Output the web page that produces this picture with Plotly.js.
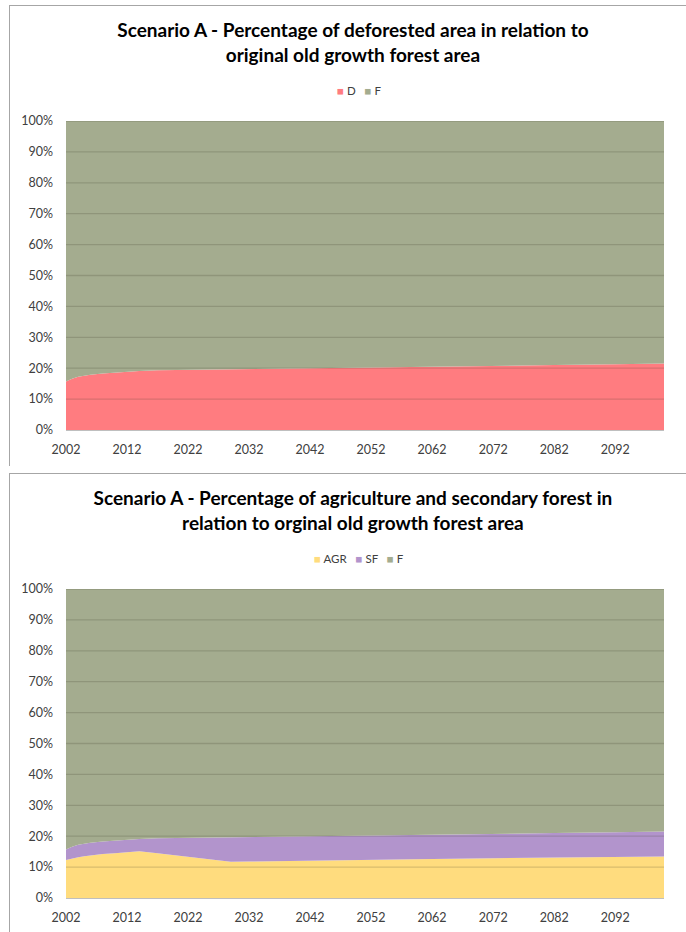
<!DOCTYPE html>
<html>
<head>
<meta charset="utf-8">
<script src="https://cdn.plot.ly/plotly-3.0.1.min.js"></script>
<style>
  html, body { margin: 0; padding: 0; width: 686px; height: 932px; overflow: hidden; background: #fff; }
  .box { position: absolute; left: 9px; width: 690px; border: 1.5px solid #A6A6A6; box-sizing: border-box; background: #fff; }
  #box1 { top: 5px; height: 461px; }
  #box2 { top: 473px; height: 466px; }
</style>
</head>
<body>
<div class="box" id="box1"><div id="chart1"></div></div>
<div class="box" id="box2"><div id="chart2"></div></div>
<script>
// Years at which the shares were sampled (percent of original old growth forest area)
const years = [2002, 2003, 2004, 2005, 2006, 2008, 2010, 2012, 2014, 2017, 2020, 2022,
               2025, 2029, 2032, 2042, 2052, 2062, 2072, 2082, 2092, 2100];

// Deforested area (D)
const deforested = [15.7, 16.6, 17.2, 17.6, 17.9, 18.3, 18.6, 18.9, 19.1, 19.3, 19.4, 19.5,
                    19.6, 19.7, 19.8, 20.0, 20.2, 20.4, 20.7, 21.0, 21.3, 21.5];

// Agriculture (AGR) and secondary forest (SF)
const agriculture = [12.3, 12.8, 13.2, 13.5, 13.8, 14.2, 14.5, 14.8, 15.1, 14.5, 13.8, 13.4,
                     12.6, 11.7, 11.8, 12.0, 12.3, 12.6, 12.9, 13.1, 13.3, 13.4];
const secondary = [3.4, 3.8, 4.0, 4.1, 4.1, 4.1, 4.1, 4.1, 4.0, 4.8, 5.6, 6.1,
                   7.0, 8.0, 8.0, 8.0, 7.9, 7.8, 7.8, 7.9, 8.0, 8.1];

const xTicks = [2002, 2012, 2022, 2032, 2042, 2052, 2062, 2072, 2082, 2092];
const yTicks = [0, 10, 20, 30, 40, 50, 60, 70, 80, 90, 100];

const title1 = 'Scenario A - Percentage of deforested area in relation to<br>original old growth forest area';
const title2 = 'Scenario A - Percentage of agriculture and secondary forest in<br>relation to orginal old growth forest area';

const COLORS = { D: '#FF7C80', F: '#A4AC8F', AGR: '#FFDC7E', SF: '#B294CC' };
const FONT = 'Lato, "Open Sans", sans-serif';

// Remaining old growth forest fills the rest up to 100%
const forest1 = deforested.map(v => 100 - v);
const forest2 = agriculture.map((v, i) => 100 - v - secondary[i]);

function area(name, y, color) {
  return {
    type: 'scatter', mode: 'lines', x: years, y: y, name: name,
    stackgroup: 'one', fillcolor: color,
    line: { width: 0, color: color, shape: 'linear' },
    hoverinfo: 'skip', showlegend: false
  };
}

// Compact key above the plot: a coloured square followed by the series name
function keyText(names, colors) {
  return names.map((n, i) =>
    '<span style="color:' + colors[i] + '">■</span>\u00a0' + n).join('\u00a0\u00a0\u00a0');
}

function layoutFor(title, h, names, colors) {
  // Gridlines drawn over the filled areas
  const grid = yTicks.filter(v => v > 0).map(v => ({
    type: 'line', xref: 'paper', yref: 'y', x0: 0, x1: 1, y0: v, y1: v,
    layer: 'above', line: { color: 'rgba(60,60,40,0.2)', width: 1.3 }
  }));
  return {
    width: 690, height: h,
    margin: { l: 56, r: 36, t: 115, b: h - 424 },
    paper_bgcolor: '#fff', plot_bgcolor: '#fff',
    font: { family: FONT, color: '#595959', size: 12 },
    title: {
      text: title, xref: 'container', x: 0.497, xanchor: 'center',
      yref: 'container', y: 1 - 31 / h, yanchor: 'middle',
      font: { family: FONT, size: 19, color: '#000', weight: 700 }
    },
    showlegend: false,
    annotations: [{
      xref: 'paper', yref: 'paper', x: 0.49, y: 1 + 30 / 308, xanchor: 'center', yanchor: 'middle',
      showarrow: false, text: keyText(names, colors),
      font: { family: FONT, size: 11.5, color: '#404040' }
    }],
    xaxis: {
      type: 'linear', range: [2002, 2100], tickvals: xTicks, ticktext: xTicks.map(String),
      showgrid: false, zeroline: false, showline: true, linecolor: '#BFBFBF', linewidth: 1,
      ticks: '', ticklabelstandoff: 8, tickfont: { size: 12.5, color: '#404040' }, fixedrange: true
    },
    yaxis: {
      range: [0, 100], tickvals: yTicks, ticktext: yTicks.map(v => v + '%'),
      showgrid: false, zeroline: false, showline: false,
      ticks: '', ticklabelstandoff: 12, tickfont: { size: 12.5, color: '#404040' }, fixedrange: true
    },
    shapes: grid,
    hovermode: false
  };
}

const cfg = { displayModeBar: false, staticPlot: true };

Plotly.newPlot('chart1',
  [area('D', deforested, COLORS.D), area('F', forest1, COLORS.F)],
  layoutFor(title1, 461, ['D', 'F'], [COLORS.D, COLORS.F]), cfg);

Plotly.newPlot('chart2',
  [area('AGR', agriculture, COLORS.AGR), area('SF', secondary, COLORS.SF), area('F', forest2, COLORS.F)],
  layoutFor(title2, 466, ['AGR', 'SF', 'F'], [COLORS.AGR, COLORS.SF, COLORS.F]), cfg);
</script>
</body>
</html>
